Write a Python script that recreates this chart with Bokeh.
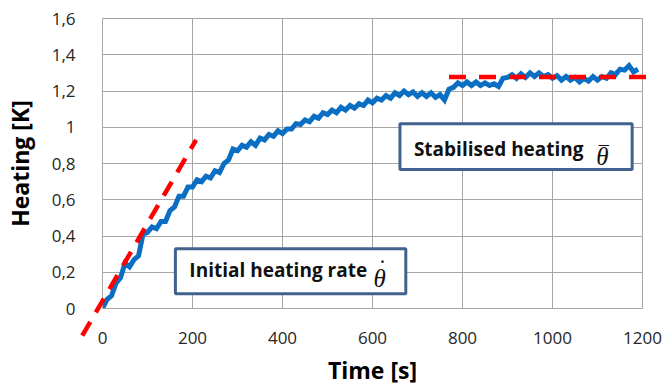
from bokeh.plotting import figure
from bokeh.models import Range1d, FixedTicker, Label
from bokeh.embed import file_html
from bokeh.resources import INLINE

# ---- data ----
time_s = [0, 10, 20, 30, 40, 50, 60, 70, 80, 90,
          100, 110, 120, 130, 140, 150, 160, 170, 180, 190,
          200, 210, 220, 230, 240, 250, 260, 270, 280, 290,
          300, 310, 320, 330, 340, 350, 360, 370, 380, 390,
          400, 410, 420, 430, 440, 450, 460, 470, 480, 490,
          500, 510, 520, 530, 540, 550, 560, 570, 580, 590,
          600, 610, 620, 630, 640, 650, 660, 670, 680, 690,
          700, 710, 720, 730, 740, 750, 760, 770, 780, 790,
          800, 810, 820, 830, 840, 850, 860, 870, 880, 890,
          900, 910, 920, 930, 940, 950, 960, 970, 980, 990,
          1000, 1010, 1020, 1030, 1040, 1050, 1060, 1070, 1080, 1090,
          1100, 1110, 1120, 1130, 1140, 1150, 1160, 1170, 1180, 1190]
heating_k = [0.00, 0.05, 0.07, 0.14, 0.17, 0.25, 0.23, 0.27, 0.29, 0.41,
             0.42, 0.45, 0.44, 0.48, 0.48, 0.54, 0.56, 0.62, 0.62, 0.67,
             0.67, 0.71, 0.70, 0.73, 0.72, 0.76, 0.75, 0.80, 0.82, 0.88,
             0.87, 0.90, 0.89, 0.92, 0.90, 0.94, 0.93, 0.96, 0.95, 0.98,
             0.965, 0.99, 0.99, 1.02, 1.015, 1.04, 1.03, 1.06, 1.05, 1.08,
             1.07, 1.095, 1.08, 1.11, 1.095, 1.12, 1.105, 1.13, 1.12, 1.15,
             1.135, 1.16, 1.15, 1.175, 1.16, 1.19, 1.175, 1.20, 1.18, 1.195,
             1.17, 1.19, 1.17, 1.19, 1.165, 1.18, 1.15, 1.21, 1.22, 1.245,
             1.23, 1.25, 1.23, 1.25, 1.23, 1.245, 1.23, 1.24, 1.225, 1.27,
             1.275, 1.29, 1.27, 1.295, 1.275, 1.30, 1.28, 1.30, 1.28, 1.29,
             1.27, 1.285, 1.26, 1.28, 1.26, 1.275, 1.25, 1.27, 1.255, 1.28,
             1.26, 1.28, 1.27, 1.30, 1.29, 1.32, 1.315, 1.34, 1.305, 1.32]

rate_x = [-45, 208]          # initial heating rate tangent
rate_y = [-0.15, 0.93]
stab_x = [770, 1213]         # stabilised heating level
stab_y = [1.277, 1.277]

x_ticks = [0, 200, 400, 600, 800, 1000, 1200]
y_ticks = [0, 0.2, 0.4, 0.6, 0.8, 1, 1.2, 1.4, 1.6]
y_tick_labels = ["0", "0,2", "0,4", "0,6", "0,8", "1", "1,2", "1,4", "1,6"]

label_rate = "Initial heating rate"
label_stab = "Stabilised heating"

FONT = "Open Sans"
GRID = "#a6a6a6"
TXT = "#262626"

p = figure(width=665, height=388, output_backend="svg", toolbar_location=None,
           x_range=Range1d(0, 1200), y_range=Range1d(0, 1.6),
           min_border_left=101, min_border_right=23, min_border_top=18,
           min_border_bottom=78)
p.background_fill_color = "white"
p.border_fill_color = "white"
p.outline_line_color = GRID
p.outline_line_width = 1

for ax in (p.xaxis[0], p.yaxis[0]):
    ax.axis_line_color = GRID
    ax.major_tick_line_color = None
    ax.minor_tick_line_color = None
    ax.major_label_text_font = FONT
    ax.major_label_text_font_size = "17px"
    ax.major_label_text_color = TXT
    ax.axis_label_text_font = FONT
    ax.axis_label_text_font_style = "bold"
    ax.axis_label_text_font_size = "23px"
    ax.axis_label_text_color = "black"

p.xaxis.ticker = FixedTicker(ticks=x_ticks)
p.yaxis.ticker = FixedTicker(ticks=y_ticks)
p.yaxis.major_label_overrides = {t: l for t, l in zip(y_ticks, y_tick_labels)}
p.xaxis.major_label_standoff = 17
p.yaxis.major_label_standoff = 21
p.xaxis.axis_label = "Time [s]"
p.yaxis.axis_label = "Heating [K]"
p.xaxis.axis_label_standoff = 7
p.yaxis.axis_label_standoff = 13

p.xgrid.ticker = FixedTicker(ticks=x_ticks)
p.ygrid.ticker = FixedTicker(ticks=y_ticks)
p.grid.grid_line_color = GRID
p.grid.grid_line_width = 1

# measured curve
p.line(time_s, heating_k, line_color="#0a6fc2", line_width=5, line_join="miter")

# annotation boxes
BOX = "#41628f"
p.quad(left=[162], right=[674], bottom=[0.082], top=[0.329],
       fill_color="white", line_color=BOX, line_width=3)
p.quad(left=[661], right=[1177], bottom=[0.767], top=[1.019],
       fill_color="white", line_color=BOX, line_width=3)

# red dashed helper lines (drawn above, not clipped)
p.line(rate_x, rate_y, line_color="#ff0000", line_width=4.5, line_dash="16 11",
       level="overlay")
p.line(stab_x, stab_y, line_color="#ff0000", line_width=4.5, line_dash="17 13",
       level="overlay")

TC = "#111111"
SYM = "Liberation Serif"
p.add_layout(Label(x=193, y=0.212, text=label_rate, text_font=FONT,
                   text_font_style="bold", text_font_size="19px",
                   text_color=TC, text_baseline="middle"))
p.add_layout(Label(x=616, y=0.164, text="\u03b8", text_font=SYM,
                   text_font_style="italic", text_font_size="25px",
                   text_color=TC, text_baseline="alphabetic", text_align="center"))
p.add_layout(Label(x=622, y=0.222, text="\u02d9", text_font=SYM,
                   text_font_style="normal", text_font_size="25px",
                   text_color=TC, text_baseline="alphabetic", text_align="center"))
p.add_layout(Label(x=692, y=0.882, text=label_stab, text_font=FONT,
                   text_font_style="bold", text_font_size="19px",
                   text_color=TC, text_baseline="middle"))
p.add_layout(Label(x=1111, y=0.838, text="\u03b8", text_font=SYM,
                   text_font_style="italic", text_font_size="25px",
                   text_color=TC, text_baseline="alphabetic", text_align="center"))
p.add_layout(Label(x=1114, y=0.85, text="\u00af", text_font=SYM,
                   text_font_style="normal", text_font_size="20px",
                   text_color=TC, text_baseline="alphabetic", text_align="center"))

open("out.html", "w").write(file_html(p, INLINE))
